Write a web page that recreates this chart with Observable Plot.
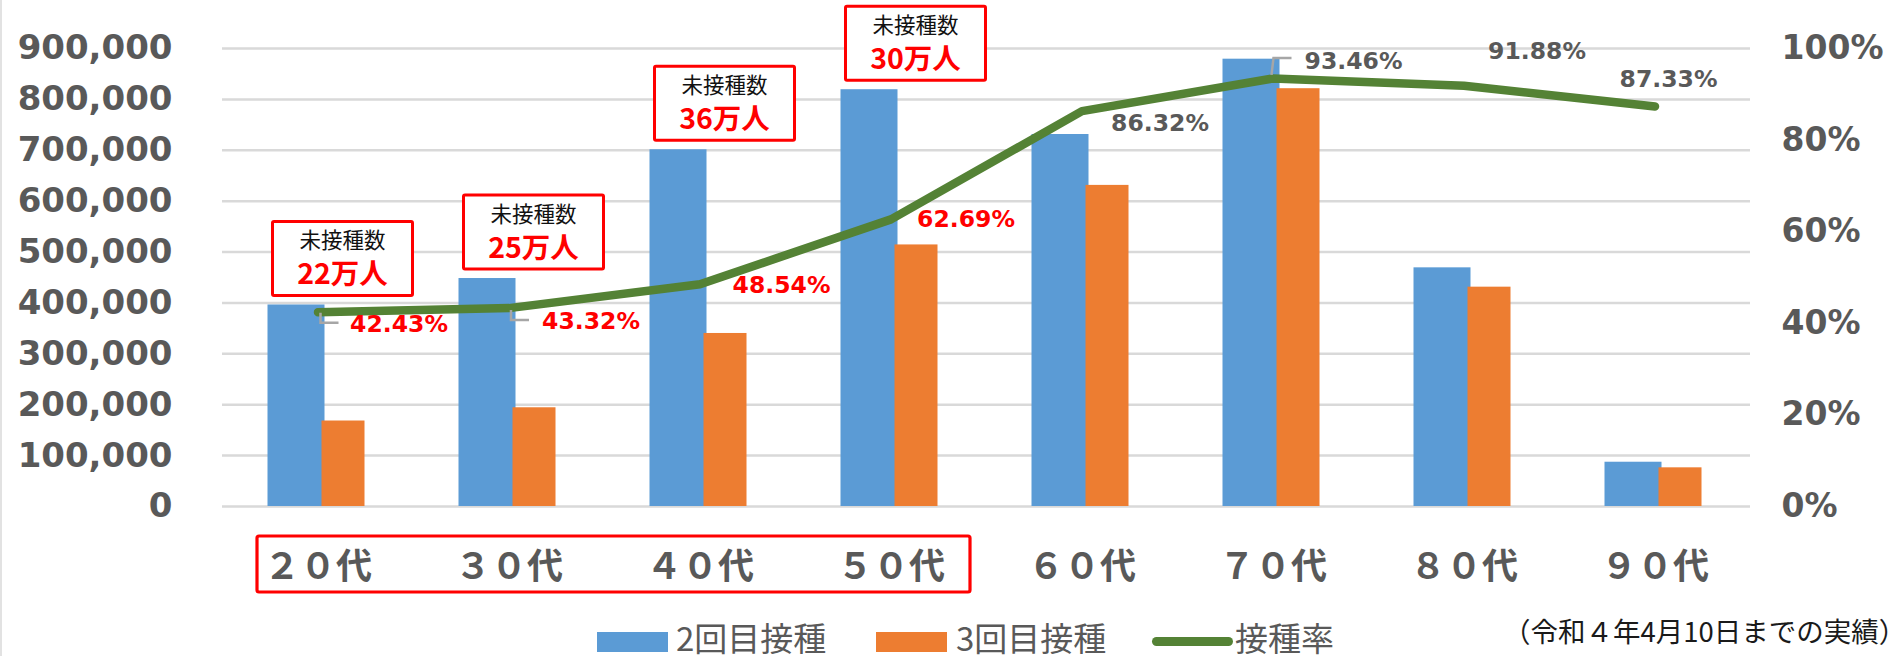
<!DOCTYPE html>
<html><head><meta charset="utf-8">
<script src="https://cdn.jsdelivr.net/npm/d3@7"></script>
<script src="https://cdn.jsdelivr.net/npm/@observablehq/plot@0.6"></script>
<style>
html,body{margin:0;padding:0;background:#fff;}
#wrap{position:relative;width:1888px;height:656px;overflow:hidden;font-family:"Noto Sans CJK JP",sans-serif;}
#chart svg{display:block;}
#edge{position:absolute;left:0;top:0;width:2px;height:656px;background:#e2e2e2;}
.lg{position:absolute;}
.lgtext{position:absolute;font-size:33px;line-height:33px;height:33px;color:#595959;white-space:nowrap;}
#note{position:absolute;left:1503px;top:616px;font-size:27.5px;line-height:28px;color:#1a1a1a;white-space:nowrap;}
</style></head>
<body><div id="wrap"><div id="chart"></div><div id="legend"></div><div id="note"></div><div id="edge"></div></div>
<script>
// ---- data ----
const categories = ["２０代","３０代","４０代","５０代","６０代","７０代","８０代","９０代"];
const dose2 = [396000, 448000, 701000, 819000, 731000, 879000, 469000, 87000];
const dose3 = [168000, 194000, 340000, 514000, 631000, 821000, 431000, 76000];
const rate = [42.43, 43.32, 48.54, 62.69, 86.32, 93.46, 91.88, 87.33];
const highlighted = ["２０代","３０代","４０代","５０代"];
const unvaccinated = ["22万人","25万人","36万人","30万人"];
const unvaccinatedTitle = "未接種数";
const yTicks = [0,100000,200000,300000,400000,500000,600000,700000,800000,900000];
const rateTicks = [0,20,40,60,80,100];
const seriesNames = ["2回目接種","3回目接種","接種率"];
const note = "（令和４年4月10日までの実績）";

// ---- style / layout ----
const BLUE = "#5B9BD5", ORANGE = "#ED7D31", GREEN = "#548235", RED = "#FF0000", GRAY = "#595959";
const Y_MAX = 900000; // 100% on right axis aligns with 900,000
const labelOffsets = [[81,12],[82,13],[81.5,1.5],[75,0],[78,12.5],[80.5,-17],[73,-34],[13.5,-27]];

const rows = categories.map((c,i)=>({cat:c, d2:dose2[i], d3:dose3[i], rate:rate[i], r:rate[i]/100*Y_MAX, hi: highlighted.includes(c)}));

const plot = Plot.plot({
  width:1888, height:600,
  marginLeft:222, marginRight:138, marginTop:48, marginBottom:94,
  x:{type:"band", domain:categories, padding:0},
  y:{domain:[0,Y_MAX]},
  style:{fontFamily:"DejaVu Sans", background:"transparent", overflow:"visible"},
  marks:[
    Plot.gridY(yTicks, {stroke:"#D9D9D9", strokeOpacity:1, strokeWidth:2.5}),
    Plot.barY(rows, {x:"cat", y:"d2", fill:BLUE, insetLeft:45.5, insetRight:88.5}),
    Plot.barY(rows, {x:"cat", y:"d3", fill:ORANGE, insetLeft:99.5, insetRight:48.5}),
    Plot.line(rows, {x:"cat", y:"r", stroke:GREEN, strokeWidth:8.5, strokeLinecap:"round", strokeLinejoin:"round"}),
    Plot.axisY(yTicks, {anchor:"left", label:null, tickSize:0, tickPadding:50, tickFormat:d3.format(","), fontSize:34, fontWeight:"bold", fill:GRAY}),
    Plot.axisY(rateTicks.map(p=>p/100*Y_MAX), {anchor:"right", label:null, tickSize:0, tickPadding:31, tickFormat:d=>Math.round(d/Y_MAX*100)+"%", fontSize:33, fontWeight:"bold", fill:GRAY}),
    Plot.axisX({label:null, tickSize:0, tickPadding:47, fontSize:36, fontWeight:"bold", fill:GRAY, fontFamily:"Noto Sans CJK JP"}),
    ...rows.map((d,i)=>Plot.text([d], {x:"cat", y:"r", text:d=>d.rate.toFixed(2)+"%", dx:labelOffsets[i][0], dy:labelOffsets[i][1],
      fill:d.hi?RED:GRAY, fontWeight:"bold", fontSize:23.5, fontFamily:"DejaVu Sans"}))
  ]
});
document.getElementById("chart").appendChild(plot);

// ---- annotations using the plot's scales ----
const sx = plot.scale("x"), sy = plot.scale("y");
const cx = c => sx.apply(c) + sx.bandwidth/2;
const svg = d3.select(plot);
const g = svg.append("g");

// leader lines (20代, 30代, 70代)
const leaders = {0:[[3,1],[3,11],[21,11]], 1:[[2.5,2.5],[2.5,12.5],[20.5,12.5]], 5:[[-1,-3],[1,-20],[19,-20]]};
Object.entries(leaders).forEach(([i,pts])=>{
  const d = rows[+i], px = cx(d.cat), py = sy.apply(d.r);
  g.append("path").attr("d", d3.line()(pts.map(([a,b])=>[px+a,py+b])))
   .attr("fill","none").attr("stroke","#A6A6A6").attr("stroke-width",2.5);
});

// unvaccinated boxes
highlighted.forEach((c,k)=>{
  const j = categories.indexOf(c);
  const bx = cx(c) + 25, by = sy.apply(dose2[j]) - 46;
  g.append("rect").attr("x",bx-70).attr("y",by-37).attr("width",140).attr("height",74)
   .attr("fill","#fff").attr("stroke",RED).attr("stroke-width",3).attr("rx",1.5);
  g.append("text").attr("x",bx).attr("y",by-18).attr("text-anchor","middle").attr("dy","0.36em")
   .attr("font-family","Noto Sans CJK JP").attr("font-size",21.5).attr("fill","#111").text(unvaccinatedTitle);
  g.append("text").attr("x",bx).attr("y",by+15.5).attr("text-anchor","middle").attr("dy","0.36em")
   .attr("font-family","Noto Sans CJK JP").attr("font-weight","bold").attr("font-size",28.5).attr("fill",RED).text(unvaccinated[k]);
});

// red frame around highlighted category labels
{
  const x0 = cx(highlighted[0]) - 60.5, x1 = cx(highlighted[highlighted.length-1]) + 79.5;
  const y0 = sy.apply(0) + 30, y1 = sy.apply(0) + 86;
  g.append("rect").attr("x",x0).attr("y",y0).attr("width",x1-x0).attr("height",y1-y0)
   .attr("fill","none").attr("stroke",RED).attr("stroke-width",3.2).attr("rx",2);
}

// ---- legend (HTML, below the svg) ----
const legend = document.getElementById("legend");
const items = [
  {name:seriesNames[0], kind:"rect", color:BLUE, sx:597, tx:676},
  {name:seriesNames[1], kind:"rect", color:ORANGE, sx:876, tx:956},
  {name:seriesNames[2], kind:"line", color:GREEN, sx:1152, tx:1235}
];
items.forEach(it=>{
  const s = document.createElement("div"); s.className="lg";
  if (it.kind==="rect") Object.assign(s.style,{left:it.sx+"px", top:"632px", width:"71px", height:"20px", background:it.color});
  else Object.assign(s.style,{left:it.sx+"px", top:"637px", width:"81px", height:"9px", borderRadius:"5px", background:it.color});
  legend.appendChild(s);
  const t = document.createElement("div"); t.className="lgtext";
  Object.assign(t.style,{left:it.tx+"px", top:"621px"}); t.textContent = it.name;
  legend.appendChild(t);
});
document.getElementById("note").textContent = note;
</script>
</body></html>
